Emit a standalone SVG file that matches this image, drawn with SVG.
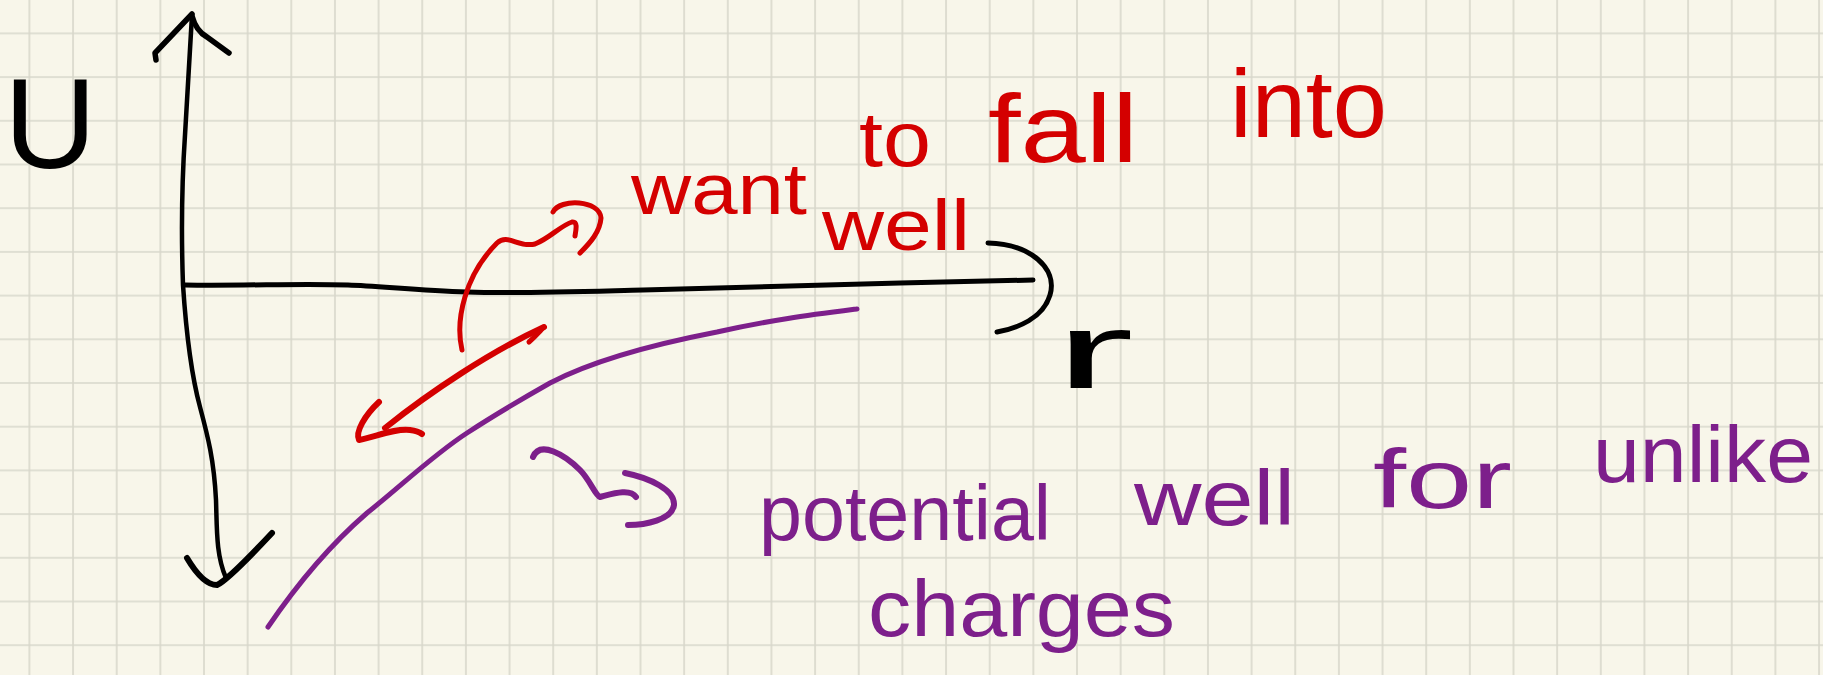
<svg xmlns="http://www.w3.org/2000/svg" width="1823" height="675" viewBox="0 0 1823 675">
<defs>
<pattern id="grid" x="28.4" y="32.4" width="43.65" height="43.7" patternUnits="userSpaceOnUse">
<path d="M0,1 H43.65 M1,0 V43.7" stroke="#d8d7cb" stroke-width="1.6" fill="none"/>
</pattern>
<style>
.ink{fill:none;stroke-linecap:round;stroke-linejoin:round}
.blk{stroke:#000}
.red{stroke:#d40000}
.pur{stroke:#7d1f8b}
.t{font-family:"Liberation Sans","DejaVu Sans",sans-serif}
.tred{fill:#d40000}
.tpur{fill:#7d1f8b}
.tblk{fill:#000}
</style>
</defs>
<rect width="1823" height="675" fill="#f8f6ea"/>
<rect width="1823" height="675" fill="url(#grid)"/>

<g id="axis-U">
<path class="ink blk" stroke-width="4.5" d="M192,15 C190,45 188,90 185,135 C182,180 181,230 183,285 C186,330 190,370 200,407 C208,437 214,460 216,500 C217,530 216,555 226,578"/>
<path class="ink blk" stroke-width="5.5" d="M156,60 L155,53 L192,14"/>
<path class="ink blk" stroke-width="5.5" d="M192,16 Q196,31 207,37 L229,53"/>
<path class="ink blk" stroke-width="6" d="M187,558 Q203,585 217,585 Q228,580 272,533"/>
</g>
<g id="label-U">
<text class="t tblk" x="4" y="168" font-size="128">U</text>
</g>

<g id="axis-r">
<path class="ink blk" stroke-width="5" d="M185,285 C250,286 300,283 348,285 C380,286 420,291 467,292 C520,294 600,291 643,290 C720,288 800,286 900,283 C960,282 1000,281 1033,280"/>
<path class="ink blk" stroke-width="5" d="M988,243 C1030,244 1058,268 1050,295 C1043,318 1018,328 997,332"/>
</g>
<g id="label-r">
<text class="t tblk" x="1054" y="388" font-size="108" textLength="80" lengthAdjust="spacingAndGlyphs">r</text>
</g>

<g id="potential-well">
<path class="ink pur" stroke-width="5" d="M268,627 C300,580 330,545 367,513 C400,487 433,455 467,433 C490,418 520,400 550,383 C590,362 650,345 717,332 C770,320 810,315 857,309"/>
</g>

<g id="connectors">
<path class="ink red" stroke-width="5" d="M462,350 C455,320 465,275 497,243 C508,233 518,248 535,244 C550,238 560,226 572,222 C578,221 576,230 575,236"/>
<path class="ink red" stroke-width="5" d="M553,212 C560,198 600,200 601,218 C600,232 590,243 580,253"/>
<path class="ink red" stroke-width="6" d="M385,428 C430,392 490,352 544,327"/>
<path class="ink red" stroke-width="5" d="M529,342 C536,336 540,331 544,327"/>
<path class="ink red" stroke-width="6" d="M379,402 C365,415 355,432 359,440 C375,437 395,428 410,430 C418,431 422,434 422,434"/>
<path class="ink pur" stroke-width="6" d="M533,457 C540,440 565,455 580,470 C590,480 595,495 600,497 C612,494 630,488 636,497"/>
<path class="ink pur" stroke-width="6" d="M625,473 C650,478 675,490 674,505 C672,520 645,525 628,525"/>
</g>

<g id="label-fall">
<text class="t tred"><tspan x="631" y="214" font-size="72" textLength="176" lengthAdjust="spacingAndGlyphs">want</tspan><tspan x="859" y="166" font-size="78" textLength="72" lengthAdjust="spacingAndGlyphs">to</tspan><tspan x="988" y="162" font-size="96" textLength="150" lengthAdjust="spacingAndGlyphs">fall</tspan><tspan x="1230" y="137" font-size="96" textLength="157" lengthAdjust="spacingAndGlyphs">into</tspan><tspan x="822" y="250" font-size="72" textLength="148" lengthAdjust="spacingAndGlyphs">well</tspan></text>
</g>

<g id="label-well">
<text class="t tpur"><tspan x="759" y="540" font-size="78" textLength="292" lengthAdjust="spacingAndGlyphs">potential</tspan><tspan x="1134" y="525" font-size="78" textLength="161" lengthAdjust="spacingAndGlyphs">well</tspan><tspan x="1373" y="508" font-size="84" textLength="139" lengthAdjust="spacingAndGlyphs">for</tspan><tspan x="1593" y="482" font-size="80" textLength="220" lengthAdjust="spacingAndGlyphs">unlike</tspan><tspan x="868" y="636" font-size="80" textLength="307" lengthAdjust="spacingAndGlyphs">charges</tspan></text>
</g>
</svg>
